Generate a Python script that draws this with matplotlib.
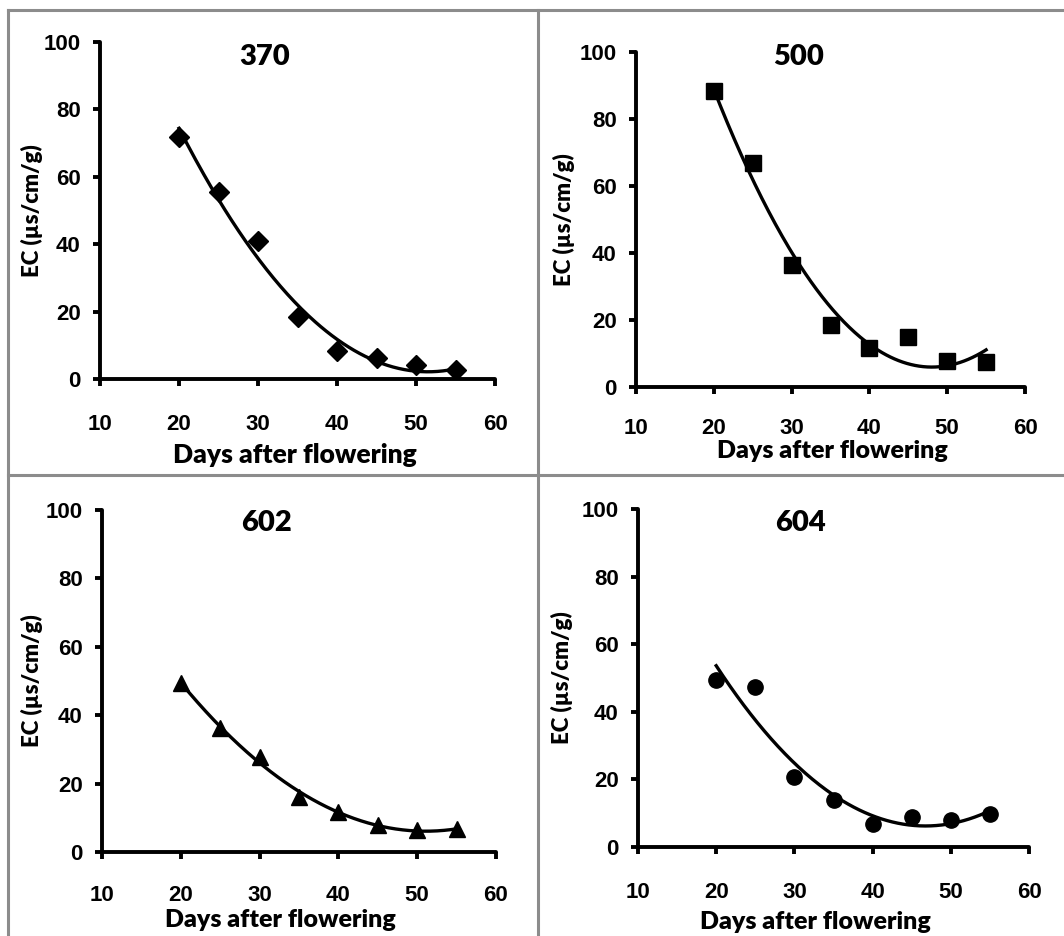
import numpy as np
import matplotlib
matplotlib.use("Agg")
import matplotlib.pyplot as plt
from matplotlib.lines import Line2D

# Days after flowering
days = [20, 25, 30, 35, 40, 45, 50, 55]

# EC values, one list per line
ec_370 = [71.8, 55.5, 41.0, 18.5, 8.2, 6.1, 4.1, 2.6]
ec_500 = [88.5, 66.8, 36.5, 18.5, 11.5, 14.8, 7.8, 7.6]
ec_602 = [49.4, 36.3, 27.8, 16.0, 11.7, 8.0, 6.4, 6.6]
ec_604 = [49.4, 47.2, 20.6, 13.9, 6.9, 8.8, 8.0, 9.9]

titles = ["370", "500", "602", "604"]
series = [ec_370, ec_500, ec_602, ec_604]
markers = ["D", "s", "^", "o"]
msizes = [10, 11, 12, 11]

xticks = [10, 20, 30, 40, 50, 60]
yticks = [0, 20, 40, 60, 80, 100]

W, H = 1064, 936
fig = plt.figure(figsize=(W / 100, H / 100), dpi=100)

# axes boxes in pixels: left, right, bottom(y of 0), top(y of 100)
boxes = [(100, 495, 379, 42), (636, 1025, 387, 52),
         (102, 496, 852, 510), (638, 1029, 847, 509)]
title_pos = [(265, 57), (799, 57), (267, 523), (800, 523)]
# label centres in axes coords
xlab_pos = [(0.494, -0.2255), (0.504, -0.19), (0.452, -0.198), (0.455, -0.222)]
ylab_pos = [(-0.172, 0.5), (-0.185, 0.5), (-0.178, 0.5), (-0.194, 0.5)]
xlab_size = [19, 18, 18, 18]
xtick_pad = [20, 17, 19, 20]

label_font = "Lato"
tick_font = "Liberation Sans"

for i in range(4):
    l, r, b, t = boxes[i]
    ax = fig.add_axes([l / W, 1 - b / H, (r - l) / W, (b - t) / H])
    x = np.array(days, dtype=float)
    y = np.array(series[i], dtype=float)
    ax.plot(x, y, linestyle="none", marker=markers[i], markersize=msizes[i],
            color="black", zorder=3)
    # polynomial trendline (order 2) like in the spreadsheet
    coef = np.polyfit(x, y, 2)
    xs = np.linspace(x.min(), x.max(), 200)
    ax.plot(xs, np.polyval(coef, xs), color="black", lw=2.4, zorder=2)

    ax.set_xlim(10, 60)
    ax.set_ylim(0, 100)
    ax.set_xticks(xticks)
    ax.set_yticks(yticks)
    for s in ["top", "right"]:
        ax.spines[s].set_visible(False)
    for s in ["left", "bottom"]:
        ax.spines[s].set_linewidth(2.8)
        ax.spines[s].set_capstyle("round")
    ax.tick_params(axis="both", length=5, width=2.8, direction="out")
    ax.tick_params(axis="x", pad=xtick_pad[i])
    ax.tick_params(axis="y", pad=9)
    for lab in ax.get_xticklabels() + ax.get_yticklabels():
        lab.set_fontfamily(tick_font)
        lab.set_fontweight("bold")
        lab.set_fontsize(16)
    ax.set_xlabel("Days after flowering", fontfamily=label_font,
                  fontweight="heavy", fontsize=xlab_size[i], va="center")
    ax.set_ylabel("EC (µs/cm/g)", fontfamily=label_font,
                  fontweight="heavy", fontsize=16, va="center")
    ax.xaxis.set_label_coords(*xlab_pos[i])
    ax.yaxis.set_label_coords(*ylab_pos[i])
    ax.patch.set_alpha(0)

    tx, ty = title_pos[i]
    fig.text(tx / W, 1 - ty / H, titles[i], ha="center", va="center",
             fontfamily=label_font, fontweight="heavy", fontsize=21)

# grey frame lines between the panels
grey = "#8c8c8c"
fig.add_artist(Line2D([8 / W, 1], [1 - 10 / H] * 2, color=grey, lw=2.2))
fig.add_artist(Line2D([8 / W] * 2, [0, 1 - 10 / H], color=grey, lw=2.2))
fig.add_artist(Line2D([538 / W] * 2, [0, 1 - 10 / H], color=grey, lw=2.2))
fig.add_artist(Line2D([8 / W, 1], [1 - 475 / H] * 2, color=grey, lw=2.2))

fig.savefig("out.png", dpi=100)
